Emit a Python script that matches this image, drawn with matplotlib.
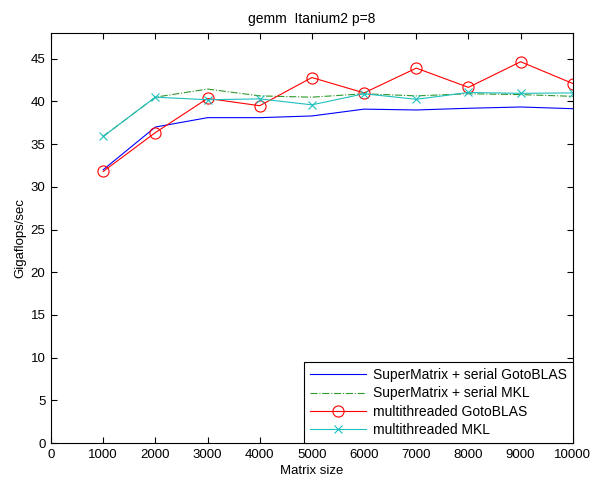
import matplotlib
matplotlib.use("Agg")
import matplotlib.pyplot as plt

plt.rcParams['font.family'] = ['Liberation Sans', 'DejaVu Sans']

sizes = [1000, 2000, 3000, 4000, 5000, 6000, 7000, 8000, 9000, 10000]
sm_goto = [32.0, 37.0, 38.1, 38.1, 38.3, 39.1, 39.0, 39.2, 39.35, 39.15]
sm_mkl = [35.9, 40.5, 41.45, 40.65, 40.5, 40.9, 40.65, 40.9, 40.8, 40.6]
mt_goto = [31.8, 36.35, 40.35, 39.5, 42.8, 41.0, 43.9, 41.65, 44.65, 42.1]
mt_mkl = [35.9, 40.5, 40.2, 40.3, 39.6, 40.9, 40.25, 41.05, 40.95, 41.0]

fig = plt.figure(figsize=(5.95, 4.8), dpi=100)
ax = fig.add_axes([0.0857, 0.077, 0.877, 0.854])

ax.plot(sizes, sm_goto, '-', color='blue', lw=0.8, label='SuperMatrix + serial GotoBLAS')
ax.plot(sizes, sm_mkl, '-.', color='#2e9a2e', lw=0.8, label='SuperMatrix + serial MKL')
ax.plot(sizes, mt_goto, '-o', color='red', lw=0.8, ms=8, mfc='none', mew=0.8,
        label='multithreaded GotoBLAS')
ax.plot(sizes, mt_mkl, '-x', color='#1fbfbf', lw=0.8, ms=5.5, mew=0.8,
        label='multithreaded MKL')

ax.set_xlim(0, 10000)
ax.set_ylim(0, 48)
ax.set_xticks(range(0, 10001, 1000))
ax.set_yticks(range(0, 46, 5))
ax.tick_params(direction='in', top=True, right=True, labelsize=9.5, length=4, pad=4)
for s in ax.spines.values():
    s.set_linewidth(0.8)

ax.set_xlabel('Matrix size', fontsize=9.5, labelpad=3)
ax.set_ylabel('Gigaflops/sec', fontsize=9.5, labelpad=3)
ax.set_title('gemm  Itanium2 p=8', fontsize=10, pad=7)

leg = ax.legend(loc='lower right', fontsize=10, fancybox=False, framealpha=1,
                edgecolor='black', borderaxespad=0, handlelength=4.0,
                labelspacing=0.3, borderpad=0.45, handletextpad=0.5)
leg.get_frame().set_linewidth(0.8)

fig.savefig('out.png', dpi=100)
